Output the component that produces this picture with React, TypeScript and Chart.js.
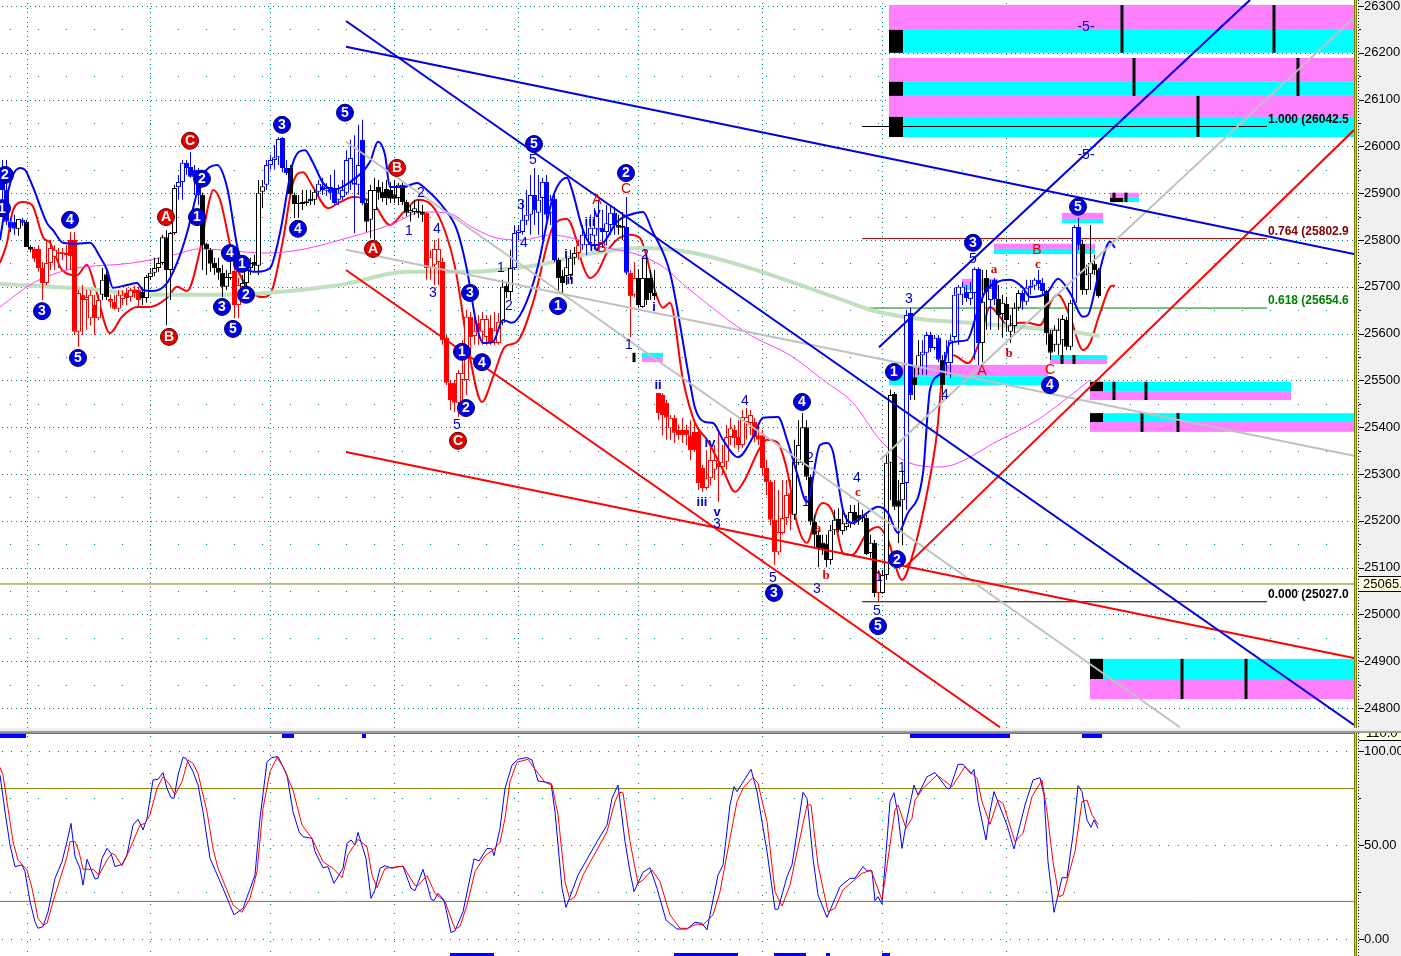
import React, { useEffect, useRef } from "react";
import { Chart, registerables } from "chart.js";

Chart.register(...registerables);

// [kind, high, bodyTop, bodyBottom, low] per session; kind: w/k neutral up/down, R/r red up/down, B/b blue up/down
const candlesA: any[] = [
["b",25971,25950,25907,25886],["b",25971,25907,25839,25832],["b",25847,25839,25826,25817],["b",25854,25839,25824,25811],["w",25845,25845,25824,25809],["b",25847,25843,25837,25830],["k",25843,25839,25785,25785],["k",25789,25785,25779,25774],["r",25785,25781,25760,25753],["r",25789,25781,25740,25732],
["r",25753,25740,25708,25672],["R",25800,25751,25708,25704],["R",25800,25783,25751,25736],["R",25789,25779,25764,25736],["r",25783,25774,25770,25740],["r",25783,25774,25770,25757],["r",25789,25772,25768,25736],["r",25817,25800,25766,25736],["r",25817,25800,25604,25597],["R",25693,25687,25604,25572],
["r",25704,25683,25672,25597],["R",25693,25678,25672,25608],["R",25693,25683,25633,25618],["r",25683,25661,25633,25597],["R",25683,25672,25633,25629],["w",25740,25715,25683,25672],["k",25740,25727,25678,25672],["r",25683,25674,25668,25655],["r",25683,25668,25653,25651],["R",25693,25683,25653,25646],
["R",25693,25683,25674,25661],["r",25698,25687,25676,25661],["R",25698,25693,25678,25668],["r",25702,25695,25687,25676],["r",25700,25693,25672,25655],["k",25698,25689,25676,25661],["w",25725,25721,25676,25666],["w",25740,25730,25721,25715],["w",25762,25740,25730,25723],["w",25762,25751,25740,25732],
["w",25811,25806,25751,25747],["k",25821,25806,25736,25618],["w",25817,25815,25736,25672],["w",25918,25911,25815,25811],["B",25939,25924,25913,25886],["B",25971,25965,25924,25886],["b",25971,25965,25954,25939],["b",25988,25956,25935,25933],["b",25960,25950,25935,25896],["b",25954,25950,25896,25875],
["k",25901,25896,25789,25736],["k",25794,25792,25781,25725],["k",25783,25779,25749,25732],["k",25762,25751,25740,25725],["k",25762,25740,25730,25715],["k",25747,25730,25700,25678],["w",25736,25721,25700,25693],["w",25753,25730,25719,25715],["r",25740,25734,25661,25633],["R",25719,25704,25661,25633],
["w",25725,25708,25700,25683],["w",25747,25740,25708,25693],["w",25762,25751,25740,25725],["k",25768,25753,25745,25732],["w",25928,25901,25745,25725],["w",25928,25915,25903,25868],["B",25971,25960,25918,25907],["B",25982,25971,25960,25950],["B",26003,25977,25971,25950],["B",26020,26016,25977,25960],
];
const candlesB: any[] = [
["b",26020,26018,25954,25945],["b",25971,25954,25943,25939],["k",25960,25954,25898,25896],["k",25901,25896,25877,25847],["w",25896,25879,25877,25847],["w",25907,25881,25877,25864],["w",25907,25883,25879,25873],["k",25907,25888,25883,25875],["w",25907,25903,25886,25875],["B",25928,25920,25903,25896],
["b",25933,25915,25907,25896],["B",25922,25911,25905,25894],["b",25939,25913,25901,25886],["b",25950,25911,25879,25875],["B",25918,25901,25886,25875],["B",25928,25907,25892,25886],["B",25992,25971,25901,25896],["B",26014,25975,25922,25907],["b",26024,25922,25918,25815],["B",26046,25960,25918,25896],
["b",26057,26014,25879,25875],["k",25886,25879,25839,25817],["w",25918,25907,25843,25804],["w",25933,25907,25864,25800],["k",25928,25913,25901,25886],["k",25924,25903,25890,25881],["k",25928,25909,25890,25875],["k",25924,25907,25888,25879],["k",25928,25898,25888,25879],["w",25922,25918,25890,25875],
["k",25922,25918,25881,25875],["k",25886,25881,25858,25851],["w",25875,25864,25858,25839],["w",25886,25868,25860,25854],["k",25886,25862,25858,25847],["k",25875,25860,25854,25839],["r",25860,25858,25740,25715],["R",25779,25764,25740,25715],["R",25800,25781,25747,25704],["R",25804,25781,25753,25704],
["r",25762,25753,25586,25576],["r",25597,25591,25495,25490],["r",25501,25495,25458,25437],["r",25501,25495,25452,25433],["R",25522,25516,25452,25422],["R",25586,25516,25501,25458],["R",25651,25636,25501,25469],["r",25646,25636,25593,25554],["R",25640,25606,25595,25576],["r",25640,25623,25604,25576],
["R",25646,25631,25604,25576],["R",25640,25631,25593,25576],["r",25640,25612,25580,25576],["R",25646,25608,25580,25576],["R",25644,25625,25580,25576],["w",25715,25700,25623,25618],["k",25710,25702,25689,25676],["w",25779,25740,25689,25672],["B",25832,25815,25740,25736],["B",25832,25821,25815,25800],
["B",25886,25843,25817,25811],["B",25907,25854,25841,25832],["B",25939,25896,25854,25811],["b",25954,25896,25864,25832],["B",25939,25886,25858,25811],["B",25933,25924,25890,25800],["b",25939,25924,25854,25843],["B",25896,25886,25858,25832],["b",25896,25888,25757,25753],["k",25762,25757,25719,25687],
];
const candlesC: any[] = [
["k",25736,25723,25708,25683],["w",25768,25742,25723,25704],["w",25779,25762,25725,25715],["w",25785,25772,25762,25747],["R",25800,25789,25772,25757],["B",25832,25811,25789,25779],["B",25832,25811,25789,25768],["B",25854,25826,25811,25789],["B",25868,25826,25809,25779],["B",25886,25826,25821,25779],
["b",25864,25826,25817,25783],["B",25875,25836,25817,25789],["B",25875,25858,25832,25811],["b",25871,25858,25832,25811],["k",25854,25832,25826,25811],["k",25860,25830,25826,25800],["b",25892,25828,25730,25725],["r",25736,25730,25680,25593],["R",25753,25719,25683,25678],["k",25736,25719,25661,25657],
["w",25762,25719,25657,25655],["k",25768,25719,25672,25661],["k",25736,25719,25687,25672],["k",25736,25687,25680,25672],["r",25473,25473,25430,25415],["r",25473,25469,25426,25383],["r",25458,25452,25420,25373],["R",25426,25420,25398,25373],["r",25426,25420,25388,25366],["r",25405,25394,25383,25373],
["r",25420,25394,25383,25366],["r",25405,25394,25383,25362],["r",25415,25383,25351,25330],["r",25415,25390,25351,25347],["r",25394,25390,25281,25266],["r",25319,25313,25270,25262],["R",25351,25291,25270,25266],["R",25362,25330,25291,25276],["R",25362,25330,25309,25287],["r",25394,25324,25315,25240],
["R",25362,25326,25315,25298],["R",25405,25379,25326,25309],["R",25420,25398,25379,25362],["r",25405,25394,25377,25356],["r",25415,25379,25362,25351],["R",25437,25422,25362,25356],["R",25441,25422,25411,25373],["R",25437,25426,25409,25383],["r",25420,25411,25379,25368],["r",25405,25383,25373,25362],
["r",25394,25383,25313,25298],["r",25330,25313,25283,25255],["r",25287,25283,25202,25191],["r",25287,25202,25133,25106],["R",25266,25176,25133,25127],["R",25287,25206,25174,25170],["R",25287,25255,25206,25191],["r",25287,25259,25213,25180],["w",25373,25326,25213,25202],["w",25415,25362,25324,25319],
["w",25430,25400,25324,25319],["k",25415,25400,25294,25287],["k",25298,25294,25198,25191],["k",25213,25198,25170,25142],["k",25180,25170,25142,25101],["k",25170,25153,25138,25127],["k",25170,25151,25116,25101],["w",25191,25180,25116,25106],["w",25223,25202,25180,25170],["k",25227,25204,25180,25176],
];
const candlesD: any[] = [
["w",25234,25195,25178,25170],["w",25213,25195,25187,25180],["w",25234,25219,25195,25185],["k",25234,25219,25198,25191],["k",25244,25213,25202,25191],["w",25223,25213,25206,25198],["k",25213,25206,25129,25127],["w",25170,25153,25131,25121],["k",25159,25153,25046,25037],["R",25095,25088,25046,25027],
["w",25095,25084,25046,25044],["w",25341,25324,25084,25074],["w",25480,25469,25324,25244],["k",25475,25471,25230,25223],["k",25287,25244,25230,25152],["w",25309,25281,25244,25148],["B",25651,25640,25281,25223],["b",25655,25644,25469,25458],["k",25527,25507,25490,25458],["w",25586,25554,25529,25512],
["B",25586,25561,25554,25512],["B",25604,25597,25559,25512],["b",25604,25597,25569,25561],["B",25597,25591,25569,25565],["b",25597,25591,25544,25539],["k",25554,25544,25490,25458],["B",25586,25561,25537,25512],["B",25597,25586,25537,25505],["B",25698,25683,25593,25586],["B",25704,25700,25683,25576],
["B",25710,25700,25683,25661],["b",25704,25689,25676,25668],["B",25710,25689,25674,25661],["B",25742,25738,25687,25544],["b",25742,25738,25580,25533],["w",25736,25668,25580,25539],["k",25736,25719,25689,25608],["B",25715,25698,25672,25608],["b",25719,25715,25674,25661],["k",25704,25674,25640,25608],
["w",25683,25666,25642,25591],["k",25678,25663,25629,25604],["w",25640,25618,25604,25580],["w",25666,25655,25616,25597],["w",25693,25687,25655,25651],["b",25693,25687,25668,25651],["B",25715,25698,25668,25661],["B",25715,25702,25698,25683],["B",25719,25715,25702,25693],["b",25736,25715,25706,25693],
["b",25719,25708,25691,25683],["k",25693,25691,25601,25576],["k",25608,25601,25559,25544],["w",25618,25608,25576,25561],["w",25633,25608,25576,25554],["w",25640,25631,25586,25554],["k",25636,25629,25572,25565],["w",25672,25666,25572,25565],["B",25832,25828,25666,25661],["b",25847,25828,25789,25779],
["k",25800,25792,25693,25683],["w",25747,25727,25693,25683],["w",25832,25751,25727,25693],["k",25768,25749,25736,25725],["k",25740,25736,25680,25676],
];

const upperBand = [[0,25800],[7,25892],[13,25939],[20,25954],[25,25950],[33,25913],[47,25836],[53,25821],[63,25794],[77,25792],[90,25794],[100,25764],[107,25736],[113,25698],[127,25704],[137,25708],[143,25693],[153,25691],[167,25708],[177,25751],[187,25815],[197,25901],[203,25939],[217,25960],[227,25913],[238,25779],[245,25742],[257,25732],[270,25740],[280,25815],[293,25965],[305,25992],[313,25965],[323,25922],[333,25907],[350,25924],[370,25967],[378,26010],[385,25982],[390,25913],[403,25913],[417,25922],[427,25907],[443,25871],[457,25821],[467,25736],[477,25614],[483,25580],[493,25582],[503,25629],[512,25623],[523,25651],[537,25736],[553,25892],[567,25933],[572,25907],[583,25821],[592,25789],[603,25794],[617,25839],[630,25854],[643,25860],[652,25821],[670,25730],[690,25495],[695,25441],[705,25411],[713,25409],[723,25373],[738,25336],[753,25379],[763,25420],[778,25422],[787,25373],[797,25302],[807,25240],[820,25362],[827,25366],[833,25347],[843,25223],[853,25195],[867,25217],[878,25230],[888,25217],[898,25174],[907,25213],[923,25302],[930,25480],[942,25518],[950,25580],[967,25586],[977,25644],[985,25689],[997,25710],[1010,25715],[1023,25698],[1030,25678],[1047,25687],[1058,25717],[1070,25687],[1083,25636],[1088,25640],[1098,25721],[1110,25796],[1115,25783]];
const lowerBand = [[0,25751],[7,25794],[13,25864],[23,25881],[32,25875],[43,25806],[50,25794],[62,25736],[77,25725],[87,25747],[95,25700],[110,25601],[122,25636],[137,25657],[150,25657],[167,25676],[177,25700],[187,25691],[200,25779],[208,25871],[213,25907],[220,25886],[233,25764],[247,25700],[263,25678],[272,25693],[283,25800],[293,25922],[303,25945],[313,25913],[328,25868],[340,25881],[353,25892],[373,25879],[390,25832],[403,25858],[418,25886],[437,25858],[455,25742],[468,25572],[482,25454],[493,25507],[505,25572],[517,25582],[533,25666],[553,25828],[567,25845],[577,25796],[582,25751],[590,25719],[597,25730],[610,25785],[630,25811],[640,25804],[657,25678],[663,25655],[670,25666],[683,25501],[695,25409],[707,25373],[723,25309],[735,25262],[743,25281],[760,25356],[767,25373],[777,25368],[787,25309],[797,25195],[807,25153],[817,25223],[823,25238],[833,25217],[843,25131],[852,25127],[867,25174],[878,25187],[888,25159],[902,25074],[912,25123],[927,25259],[937,25388],[943,25522],[953,25554],[968,25537],[980,25586],[990,25657],[1000,25636],[1007,25618],[1020,25623],[1027,25623],[1040,25618],[1052,25672],[1058,25683],[1070,25636],[1083,25565],[1090,25580],[1100,25644],[1112,25702],[1115,25702]];
const slowAverage = [[0,25706],[100,25693],[143,25683],[200,25683],[267,25687],[340,25704],[350,25708],[407,25732],[473,25732],[513,25740],[540,25747],[583,25768],[640,25783],[690,25774],[750,25740],[800,25704],[850,25666],[870,25651],[913,25633],[970,25623],[1020,25614],[1070,25604],[1100,25595]];
const midAverage = [[0,25657],[33,25708],[67,25736],[83,25742],[133,25751],[173,25768],[200,25781],[267,25772],[300,25779],[340,25800],[390,25832],[423,25860],[447,25858],[473,25826],[497,25804],[523,25800],[550,25811],[607,25783],[633,25772],[660,25747],[690,25693],[750,25597],[790,25554],[823,25501],[853,25452],[880,25373],[903,25330],[940,25315],[1000,25373],[1037,25415],[1067,25462],[1090,25501]];

const blueTrends = [[[346,26268],[1354,24764]],[[346,26213],[1354,25770]],[[879,25571],[1250,26313]]];
const redTrends = [[[346,25736],[1000,24759]],[[346,25347],[1354,24907]],[[905,25101],[1354,26035]]];
const greyTrends = [[[346,26010],[1180,24759]],[[346,25779],[1354,25339]],[[880,25330],[1354,26275]]];

// [label, level price, first time, last time, colour]
const fibLevels: any[] = [
  ["1.000 (26042.5", 26042.5, 862, 1267, "#000000"],
  ["0.764 (25802.9", 25802.9, 862, 1267, "#800000"],
  ["0.618 (25654.6", 25654.6, 868, 1267, "#008000"],
  ["0.000 (25027.0", 25027.0, 862, 1267, "#000000"],
];
const lastPrice = 25065;

const blueCircles: any[] = [["2",5,25939],["1",2,25868],["4",70,25843],["3",42,25648],["5",78,25548],["2",202,25931],["1",197,25849],["4",230,25772],["1",242,25749],["2",246,25683],["3",222,25657],["5",233,25610],["3",282,26046],["4",298,25824],["5",345,26072],["3",470,25687],["1",462,25561],["4",482,25539],["2",466,25441],["1",558,25659],["2",626,25943],["5",534,26005],["4",802,25454],["3",774,25046],["2",897,25118],["5",878,24975],["1",894,25518],["3",973,25794],["4",1050,25490],["5",1078,25871]];
const redCircles: any[] = [["A",166,25849],["C",190,26012],["B",169,25593],["B",397,25954],["A",373,25781],["C",458,25371]];
const blueWaveLabels: any[] = [["5",533,25971],["2",421,25901],["1",409,25819],["4",437,25824],["3",433,25687],["1",501,25742],["2",509,25659],["4",524,25794],["3",521,25875],["5",457,25405],["1",629,25576],["i",566,25770],["ii",570,25715],["iii",590,25839],["v",597,25858],["iv",595,25785],["2",645,25768],["i",654,25657],["ii",658,25490],["4",745,25456],["iv",710,25366],["iii",702,25240],["v",717,25219],["3",717,25195],["5",773,25078],["3",817,25054],["2",810,25334],["1",806,25242],["4",857,25292],["5",877,25009],["1",902,25313],["1",879,25080],["3",909,25674],["4",945,25469],["5",973,25760],["-5-",1086,26255],["-5-",1086,25982]];
const redWaveLabels: any[] = [["A",597,25886],["B",602,25783],["C",626,25909],["c",858,25262],["a",818,25185],["b",826,25084],["a",994,25738],["b",1009,25559],["A",982,25520],["B",1037,25779],["c",1038,25749],["C",1050,25524]];

// [first time, last time, high price, low price]
const pinkZones = [[889,1354,26302,26249],[889,1354,26189,26138],[889,1354,26108,26063],[889,1048,25533,25509],[962,998,25717,25704],[994,1095,25792,25781],[1062,1103,25858,25845],[1110,1139,25901,25890],[1050,1107,25546,25535],[642,663,25550,25539],[1090,1291,25477,25458],[1090,1354,25411,25390],[1090,1354,24862,24819]];
const cyanZones = [[889,1354,26249,26200],[889,1354,26138,26108],[889,1354,26063,26020],[889,1048,25509,25490],[962,998,25704,25693],[994,1095,25781,25770],[1062,1103,25845,25836],[1110,1139,25890,25881],[1050,1107,25554,25546],[642,663,25559,25550],[1090,1291,25497,25477],[1090,1354,25430,25411],[1090,1354,24905,24862]];
const blackBlocks = [[889,903,26249,26200],[889,903,26138,26108],[889,903,26063,26020],[1090,1103,25497,25477],[1090,1103,25430,25411],[1090,1103,24905,24862],[1110,1123,25890,25881]];
// [time, high, low]
const targetBars = [[1122,26302,26200],[1274,26302,26200],[1134,26189,26108],[1298,26189,26108],[1198,26108,26020],[1114,25497,25458],[1146,25497,25458],[1142,25430,25390],[1178,25430,25390],[1182,24905,24819],[1246,24905,24819],[1114,25901,25881],[1126,25901,25881],[1062,25554,25535],[1074,25554,25535],[634,25559,25539]];

const priceTicks = [26300,26200,26100,26000,25900,25800,25700,25600,25500,25400,25300,25200,25100,25000,24900,24800];
const gridTimes = [26.67,150,270,394,518,638,762,882,1006];

const stochBlueA = [[0,87.2],[5,67.7],[10,50.0],[15,38.5],[22,39.4],[25,35.8],[30,19.9],[35,9.2],[38,5.7],[43,6.6],[48,14.5],[55,32.3],[62,41.1],[67,51.8],[71,61.5],[75,43.8],[80,37.6],[83,28.7],[87,42.4],[95,31.9],[98,32.3],[102,42.9],[107,48.2],[111,45.6],[115,38.5],[122,39.7],[127,44.7],[133,60.6],[138,63.7],[143,58.0],[147,64.2],[153,84.6],[158,84.9],[163,88.5],[167,80.1],[171,75.2],[174,74.8],[178,87.2],[183,96.6],[186,96.1],[193,89.0],[198,81.9],[203,67.7],[210,42.9],[223,27.0],[234,12.8],[243,16.3],[255,34.0],[260,64.2],[267,94.3],[272,96.5],[278,97.0],[287,87.2],[293,67.7],[299,57.1],[303,54.4],[312,53.5],[315,46.5],[323,37.9],[328,38.5],[334,29.6],[343,37.6],[347,50.9],[351,52.7],[355,50.0],[358,56.7],[366,42.9],[371,21.6],[375,26.1],[380,37.6],[385,39.0],[392,37.6],[398,38.5],[403,38.5],[411,27.0],[415,25.7],[423,37.1],[431,21.3],[434,20.4],[438,24.3],[444,20.7],[451,3.5],[455,4.4],[463,14.5],[474,42.6],[479,41.5],[487,48.2],[492,47.9],[494,44.3],[500,58.9]];
const stochBlueB = [[505,80.1],[512,92.5],[518,95.6],[527,96.5],[532,95.2],[538,84.0],[543,83.7],[551,82.8],[555,67.7],[562,27.0],[566,16.8],[578,34.0],[597,51.8],[607,60.6],[612,74.8],[618,81.9],[625,51.8],[630,35.8],[634,25.2],[643,35.5],[650,37.9],[657,27.0],[666,10.1],[677,5.3],[687,5.3],[695,8.9],[702,8.3],[707,4.8],[718,34.0],[723,39.4],[730,71.3],[734,81.0],[737,78.4],[751,90.3],[757,78.4],[767,46.5],[775,15.8],[778,15.8],[787,33.2],[792,39.4],[803,78.0],[807,74.8],[813,42.9],[818,23.4],[827,11.5],[840,27.8],[850,32.3],[855,32.3],[863,38.5],[867,36.2],[872,36.2],[875,20.4],[878,22.5],[882,18.6],[890,73.1],[894,77.8],[898,66.0],[902,48.2],[907,64.2],[914,81.9],[918,76.6],[927,86.3],[935,88.5],[947,80.1],[950,80.1],[958,92.9],[963,92.9],[971,87.8],[974,90.2],[978,73.1],[986,52.7],[990,67.7],[994,78.4],[1007,60.6],[1014,47.9],[1025,71.3],[1033,84.6],[1040,85.8],[1044,76.6],[1048,41.1],[1054,14.2],[1062,32.6],[1067,32.6],[1073,55.3],[1078,81.6],[1082,78.4],[1087,63.3],[1091,59.4],[1094,63.3],[1098,58.9]];
const stochRedA = [[0,91.3],[3,87.2],[8,69.5],[13,51.8],[18,42.0],[27,36.7],[32,27.0],[38,11.0],[43,7.5],[47,8.3],[53,19.9],[67,43.8],[70,51.8],[75,51.8],[79,46.5],[83,37.1],[93,37.1],[99,34.0],[107,42.0],[112,45.6],[115,44.7],[122,39.0],[128,45.6],[140,60.6],[145,61.5],[150,66.0],[157,80.1],[163,86.3],[170,81.9],[175,76.6],[182,83.7],[188,95.2],[193,93.4],[198,88.1],[207,67.7],[213,48.2],[218,37.6],[233,18.1],[242,14.2],[250,21.6],[257,35.8],[263,69.5],[270,89.0],[277,96.5],[283,91.7],[293,79.2],[302,60.6],[312,53.5],[323,41.1],[333,37.6],[342,32.6],[348,44.7],[358,53.0],[367,49.1],[372,34.0],[377,27.3],[385,37.6],[393,38.1],[403,38.8],[415,28.4],[418,28.4],[427,33.7],[435,24.3],[445,19.9],[455,5.3],[460,6.6],[467,18.1],[475,35.8],[485,44.3],[493,47.3],[500,51.4]];
const stochRedB = [[505,64.2],[510,83.7],[517,94.0],[528,95.6],[533,91.7],[545,83.3],[552,81.9],[558,66.0],[565,30.5],[570,20.7],[575,22.5],[583,34.0],[607,57.1],[615,73.1],[619,78.0],[623,77.8],[630,51.8],[638,29.6],[643,31.4],[652,36.7],[660,30.5],[670,12.8],[680,5.7],[688,5.7],[697,8.0],[703,7.5],[713,12.8],[720,25.2],[730,53.5],[737,73.1],[743,80.1],[753,86.0],[758,82.8],[767,62.4],[775,25.2],[782,17.5],[790,28.7],[807,71.3],[811,71.3],[818,39.4],[828,14.5],[835,16.3],[843,26.1],[862,34.9],[871,36.7],[882,20.7],[895,68.6],[898,71.3],[906,58.9],[912,64.2],[915,73.9],[923,80.1],[937,87.2],[952,81.0],[965,91.7],[977,85.5],[982,73.1],[990,61.0],[998,73.9],[1003,72.2],[1015,51.8],[1023,56.2],[1032,75.7],[1042,84.6],[1047,67.7],[1053,41.1],[1059,22.5],[1063,23.4],[1075,46.5],[1082,73.1],[1087,73.9],[1092,65.9],[1098,61.0]];
const stochTicks = [100,50,0];
const stochLevels = [80,20];
const stochSignalTop = [[0,26],[282,294],[362,366],[910,1010],[1082,1102]];
const stochSignalBottom = [[450,494],[674,738],[774,806],[826,830],[882,890]];

const SANS = "'Liberation Sans', Arial, sans-serif";
const AXIS_FONT = "13px " + SANS;
const OLIVE = "#808000";
const TEAL = "#008080";

const toPoints = (rows: number[][]) => rows.map(([x, y]) => ({ x, y }));
const lineDs = (data: number[][], color: string, width: number, order: number, smooth = false): any => ({
  type: "line",
  data: toPoints(data),
  borderColor: color,
  borderWidth: width,
  pointRadius: 0,
  order,
  tension: 0,
  cubicInterpolationMode: smooth ? "monotone" : "default",
});

const fitAxis = (s: any) => {
  s.width = 47;
  s.paddingTop = 0;
  s.paddingBottom = 0;
  s.paddingLeft = 0;
  s.paddingRight = 0;
};

function drawFrame(ctx: CanvasRenderingContext2D, area: any, height: number) {
  ctx.fillStyle = "#f0f0f0";
  ctx.fillRect(1358, 0, 43, height);
  ctx.fillStyle = OLIVE;
  ctx.fillRect(area.right, 0, 1, height);
  ctx.fillRect(area.right + 2, 0, 1, height);
  ctx.fillStyle = "#b0d060";
  ctx.fillRect(area.right + 1, 0, 1, height);
  ctx.fillStyle = "#000000";
  for (let y = 0; y < height; y += 3) ctx.fillRect(1358, y, 1, 1);
}

function dottedRow(ctx: CanvasRenderingContext2D, y: number, start: number, step: number, right: number) {
  for (let x = start; x < right; x += step) ctx.fillRect(Math.round(x), Math.round(y), 1, 1);
}
function dottedColumn(ctx: CanvasRenderingContext2D, x: number, step: number, height: number) {
  for (let y = 3; y < height; y += step) ctx.fillRect(Math.round(x), Math.round(y), 1, 1);
}

const mainPlugin: any = {
  id: "mainDecor",
  beforeDraw(chart: any) {
    const { ctx, chartArea, scales } = chart;
    const { y } = scales;
    ctx.save();
    drawFrame(ctx, chartArea, chart.height);
    ctx.fillStyle = "#000000";
    priceTicks.forEach((p) => {
      ctx.fillRect(1359, Math.round(y.getPixelForValue(p)), 5, 1);
      ctx.fillRect(1359, Math.round(y.getPixelForValue(p - 50)), 2, 1);
    });
    ctx.restore();
  },
  beforeDatasetsDraw(chart: any) {
    const { ctx, chartArea, scales } = chart;
    const { x, y } = scales;
    ctx.save();
    ctx.beginPath();
    ctx.rect(chartArea.left, chartArea.top, chartArea.width, chartArea.height);
    ctx.clip();
    ctx.fillStyle = TEAL;
    priceTicks.forEach((p) => {
      dottedRow(ctx, y.getPixelForValue(p), 2, 4.67, chartArea.right);
      dottedRow(ctx, y.getPixelForValue(p - 50), 10, 28, chartArea.right);
    });
    gridTimes.forEach((t) => dottedColumn(ctx, x.getPixelForValue(t), 4.67, chart.height));
    const rect = (r: number[], color: string) => {
      const x0 = x.getPixelForValue(r[0]);
      const y0 = y.getPixelForValue(r[2]);
      ctx.fillStyle = color;
      ctx.fillRect(x0, y0, x.getPixelForValue(r[1]) - x0, y.getPixelForValue(r[3]) - y0);
    };
    pinkZones.forEach((r) => rect(r, "#ff80ff"));
    cyanZones.forEach((r) => rect(r, "#00ffff"));
    blackBlocks.forEach((r) => rect(r, "#000000"));
    ctx.restore();
  },
  afterDatasetsDraw(chart: any) {
    const { ctx, chartArea, scales } = chart;
    const { x, y } = scales;
    ctx.save();
    ctx.beginPath();
    ctx.rect(chartArea.left, chartArea.top, chartArea.width, chartArea.height);
    ctx.clip();
    ctx.textAlign = "center";
    ctx.textBaseline = "middle";
    const put = (row: any[], color: string, font: string) => {
      ctx.fillStyle = color;
      ctx.font = font;
      ctx.fillText(row[0], x.getPixelForValue(row[1]), y.getPixelForValue(row[2]) + 0.5);
    };
    blueWaveLabels.forEach((r) =>
      put(r, "#0000d0", /^[iv]+$/.test(r[0]) ? "bold 13px " + SANS : "14px " + SANS)
    );
    redWaveLabels.forEach((r) =>
      put(r, "#e00000", /^[abc]$/.test(r[0]) ? "bold 13px 'Liberation Serif', serif" : "14px " + SANS)
    );
    blueCircles.concat(redCircles).forEach((r) => put(r, "#ffffff", "bold 14px " + SANS));
    ctx.textAlign = "left";
    ctx.textBaseline = "alphabetic";
    ctx.font = "bold 12px " + SANS;
    fibLevels.forEach((f) => {
      ctx.fillStyle = f[4];
      ctx.fillText(f[0], x.getPixelForValue(1268), y.getPixelForValue(f[1]) - 4);
    });
    ctx.restore();
    // last-price flag on the axis
    const py = Math.round(y.getPixelForValue(lastPrice));
    ctx.save();
    ctx.fillStyle = "#ffffe0";
    ctx.fillRect(1359, py - 7, 42, 14);
    ctx.fillStyle = "#000000";
    ctx.fillRect(1359, py - 8, 42, 1);
    ctx.fillRect(1359, py + 7, 42, 1);
    ctx.font = AXIS_FONT;
    ctx.textBaseline = "middle";
    ctx.fillText(lastPrice + ".", 1363, py);
    ctx.restore();
  },
};

const stochPlugin: any = {
  id: "stochDecor",
  beforeDraw(chart: any) {
    const { ctx, chartArea } = chart;
    const { y } = chart.scales;
    ctx.save();
    drawFrame(ctx, chartArea, chart.height);
    ctx.fillStyle = "#000000";
    stochTicks.forEach((v) => ctx.fillRect(1359, Math.round(y.getPixelForValue(v)), 5, 1));
    [75, 25].forEach((v) => ctx.fillRect(1359, Math.round(y.getPixelForValue(v)), 2, 1));
    ctx.restore();
  },
  beforeDatasetsDraw(chart: any) {
    const { ctx, chartArea } = chart;
    const { x, y } = chart.scales;
    ctx.save();
    ctx.fillStyle = OLIVE;
    ctx.fillRect(0, 0, chartArea.right, 1);
    ctx.fillStyle = TEAL;
    stochTicks.forEach((v) => dottedRow(ctx, y.getPixelForValue(v), 2, 9.33, chartArea.right));
    [75, 25].forEach((v) => dottedRow(ctx, y.getPixelForValue(v), 10, 28, 1100));
    gridTimes.forEach((t) => dottedColumn(ctx, x.getPixelForValue(t), 9.33, chart.height));
    ctx.fillStyle = "#0000ff";
    stochSignalTop.forEach(([a, b]) => {
      const x0 = x.getPixelForValue(a);
      ctx.fillRect(x0, 1, x.getPixelForValue(b) - x0, 4);
    });
    stochSignalBottom.forEach(([a, b]) => {
      const x0 = x.getPixelForValue(a);
      ctx.fillRect(x0, chart.height - 3, x.getPixelForValue(b) - x0, 3);
    });
    ctx.restore();
  },
  afterDraw(chart: any) {
    const { ctx } = chart;
    ctx.save();
    ctx.fillStyle = "#ffffe0";
    ctx.fillRect(1359, 0, 42, 7);
    ctx.fillStyle = "#000000";
    ctx.fillRect(1359, 7, 42, 1);
    ctx.font = AXIS_FONT;
    ctx.textBaseline = "middle";
    ctx.fillText("110.0", 1366, 0);
    ctx.restore();
  },
};

export default function App() {
  const mainRef = useRef<HTMLCanvasElement>(null);
  const stochRef = useRef<HTMLCanvasElement>(null);

  useEffect(() => {
    const candles = [...candlesA, ...candlesB, ...candlesC, ...candlesD];
    const time = (i: number) => 2.5 + 4 * i;
    const kindColor: any = { w: "#000000", k: "#000000", r: "#ff0000", R: "#ff0000", b: "#0000ff", B: "#0000ff" };
    const hollow = (k: string) => k === "w" || k === "R" || k === "B";

    const mainDatasets: any[] = [
      ...fibLevels.map((f) => lineDs([[f[2], f[1]], [f[3], f[1]]], f[4], 1, 90)),
      lineDs([[0, lastPrice], [1354, lastPrice]], OLIVE, 1, 88),
      lineDs(lowerBand, "#ff0000", 2, 80, true),
      lineDs(slowAverage, "#c0e0c0", 4, 70, true),
      lineDs(midAverage, "#ff40ff", 1, 65, true),
      {
        type: "bar",
        data: candles.map((c, i) => ({ x: time(i), y: [c[4], c[1]] })),
        backgroundColor: candles.map((c) => kindColor[c[0]]),
        barThickness: 1,
        grouped: false,
        inflateAmount: 0,
        order: 60,
      },
      {
        type: "bar",
        data: candles.map((c, i) => ({ x: time(i), y: [c[3], c[2]] })),
        backgroundColor: candles.map((c) => (hollow(c[0]) ? "#ffffff" : kindColor[c[0]])),
        borderColor: candles.map((c) => kindColor[c[0]]),
        borderWidth: 1,
        borderSkipped: false,
        barThickness: 5,
        grouped: false,
        inflateAmount: 0,
        order: 50,
      },
      {
        type: "bar",
        data: targetBars.map((b) => ({ x: b[0], y: [b[2], b[1]] })),
        backgroundColor: "#000000",
        barThickness: 3,
        grouped: false,
        inflateAmount: 0,
        order: 45,
      },
      lineDs(upperBand, "#0000ff", 2, 40, true),
      ...greyTrends.map((t) => lineDs(t, "#c0c0c0", 2, 30)),
      ...redTrends.map((t) => lineDs(t, "#ff0000", 2, 25)),
      ...blueTrends.map((t) => lineDs(t, "#0000e0", 2, 20)),
      {
        type: "scatter",
        data: blueCircles.map((c) => ({ x: c[1], y: c[2] })),
        backgroundColor: "#0000e8",
        borderColor: "#000060",
        borderWidth: 1,
        pointRadius: 8.5,
        order: 5,
      },
      {
        type: "scatter",
        data: redCircles.map((c) => ({ x: c[1], y: c[2] })),
        backgroundColor: "#e80000",
        borderColor: "#600000",
        borderWidth: 1,
        pointRadius: 8.5,
        order: 5,
      },
    ];

    const commonPlugins = { legend: { display: false }, tooltip: { enabled: false } };
    const xScale: any = { type: "linear", min: 0, max: 1354, display: false, offset: false, grid: { display: false } };

    const main = new Chart(mainRef.current as any, {
      type: "bar",
      data: { datasets: mainDatasets },
      options: {
        responsive: false,
        animation: false as any,
        devicePixelRatio: 1,
        layout: { padding: 0, autoPadding: false },
        events: [],
        plugins: commonPlugins as any,
        scales: {
          x: xScale,
          y: {
            type: "linear",
            position: "right",
            min: 24757.3,
            max: 26312.8,
            grid: { display: false, drawTicks: false },
            border: { display: false },
            afterBuildTicks: (s: any) => {
              s.ticks = priceTicks.map((value) => ({ value }));
            },
            afterFit: fitAxis,
            ticks: {
              autoSkip: false,
              padding: 10,
              color: "#000000",
              font: { family: "'Liberation Sans', Arial, sans-serif", size: 13 },
              callback: (v: any) => String(v),
            },
          } as any,
        },
      } as any,
      plugins: [mainPlugin],
    });

    const stochDatasets: any[] = [
      ...stochLevels.map((v) => lineDs([[0, v], [1354, v]], OLIVE, 1, 30)),
      lineDs([...stochBlueA, ...stochBlueB], "#0000ff", 1, 20),
      lineDs([...stochRedA, ...stochRedB], "#ff0000", 1, 10),
    ];

    const stoch = new Chart(stochRef.current as any, {
      type: "line",
      data: { datasets: stochDatasets },
      options: {
        responsive: false,
        animation: false as any,
        devicePixelRatio: 1,
        layout: { padding: 0, autoPadding: false },
        events: [],
        plugins: commonPlugins as any,
        scales: {
          x: xScale,
          y: {
            type: "linear",
            position: "right",
            min: -9.04,
            max: 109.57,
            grid: { display: false, drawTicks: false },
            border: { display: false },
            afterBuildTicks: (s: any) => {
              s.ticks = stochTicks.map((value) => ({ value }));
            },
            afterFit: fitAxis,
            ticks: {
              autoSkip: false,
              padding: 10,
              color: "#000000",
              font: { family: "'Liberation Sans', Arial, sans-serif", size: 13 },
              callback: (v: any) => Number(v).toFixed(2),
            },
          } as any,
        },
      } as any,
      plugins: [stochPlugin],
    });

    return () => {
      main.destroy();
      stoch.destroy();
    };
  }, []);

  return (
    <div style={{ position: "absolute", left: 0, top: 0, width: 1401, height: 956, overflow: "hidden", background: "#ffffff" }}>
      <canvas ref={mainRef} width={1401} height={728} style={{ position: "absolute", left: 0, top: 0 }} />
      <div style={{ position: "absolute", left: 0, top: 728, width: 1401, height: 5, background: "linear-gradient(#f4f4f4 0%, #e8e8e8 50%, #8c8c8c 75%, #a0a0a0 100%)" }} />
      <canvas ref={stochRef} width={1401} height={223} style={{ position: "absolute", left: 0, top: 733 }} />
    </div>
  );
}
